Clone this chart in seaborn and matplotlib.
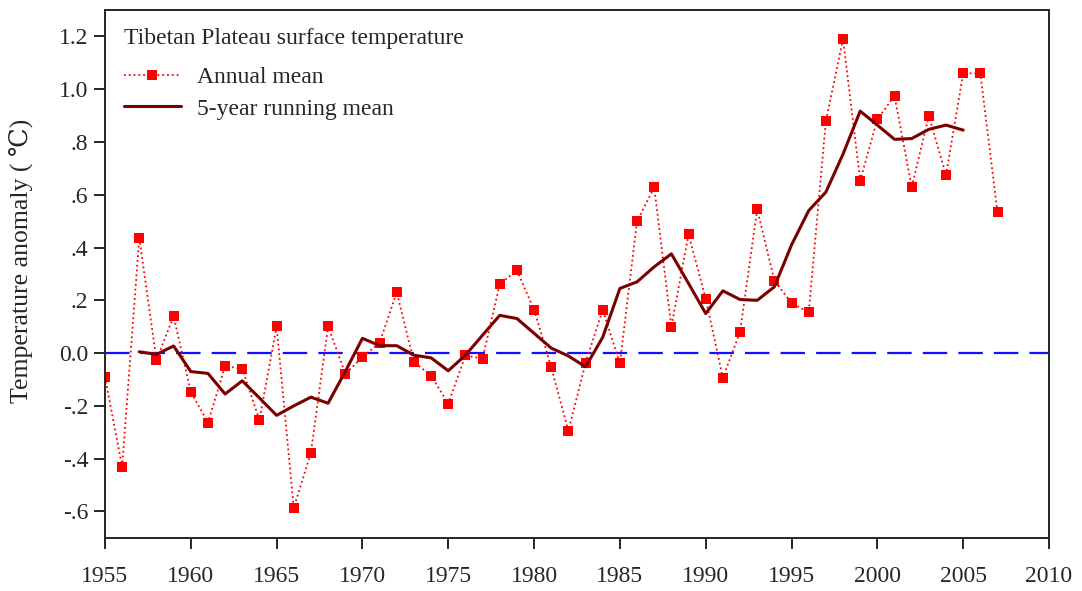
import numpy as np
import pandas as pd
import seaborn as sns
import matplotlib.pyplot as plt
from matplotlib.ticker import FuncFormatter

# Annual mean anomaly
years = list(range(1955, 2008))
annual = [-0.09, -0.43, 0.436, -0.026, 0.14, -0.146, -0.264, -0.049, -0.06, -0.254,
          0.101, -0.587, -0.377, 0.102, -0.078, -0.016, 0.039, 0.231, -0.034, -0.085,
          -0.192, -0.009, -0.021, 0.261, 0.313, 0.165, -0.054, -0.295, -0.037, 0.165,
          -0.039, 0.50, 0.628, 0.10, 0.45, 0.206, -0.094, 0.08, 0.545, 0.275,
          0.19, 0.154, 0.879, 1.19, 0.654, 0.886, 0.975, 0.629, 0.899, 0.675,
          1.06, 1.06, 0.533]

# 5-year running mean (1957-2005)
run_years = list(range(1957, 2006))
running = [0.005, -0.005, 0.027, -0.07, -0.077, -0.155, -0.105, -0.17, -0.236, -0.2,
           -0.167, -0.19, -0.07, 0.056, 0.028, 0.028, -0.008, -0.018, -0.067, -0.008,
           0.068, 0.143, 0.131, 0.075, 0.019, -0.011, -0.052, 0.06, 0.245, 0.27,
           0.327, 0.376, 0.264, 0.15, 0.236, 0.203, 0.20, 0.251, 0.41, 0.54,
           0.61, 0.754, 0.917, 0.864, 0.81, 0.813, 0.848, 0.864, 0.845]

df_annual = pd.DataFrame({"Year": years, "Anomaly": annual})
df_run = pd.DataFrame({"Year": run_years, "Anomaly": running})

sns.set_style("ticks")
plt.rcParams['font.family'] = ['Liberation Serif', 'DejaVu Serif']

fig = plt.figure(figsize=(10.82, 5.91), dpi=100)
ax = fig.add_axes([0.097, 0.09, 0.8725, 0.893])

ax.axhline(0, color="#1010ff", linestyle=(0, (11, 5)), linewidth=1.6, zorder=1)

sns.lineplot(data=df_annual, x="Year", y="Anomaly", ax=ax, color="red",
             linestyle=":", linewidth=1.3, marker="s", markersize=6.5,
             markeredgewidth=0, label="Annual mean")
sns.lineplot(data=df_run, x="Year", y="Anomaly", ax=ax, color="#7a0000",
             linewidth=2.2, label="5-year running mean")

ax.set_xlim(1955, 2010)
ax.set_ylim(-0.7, 1.3)
ax.set_xticks(range(1955, 2011, 5))
ax.set_yticks(np.arange(-0.6, 1.21, 0.2))


def fmt(v, pos):
    s = "%.1f" % v
    if s in ("0.0", "-0.0"):
        return "0.0"
    if abs(v) < 1:
        s = s.replace("0.", ".")
    return s


ax.yaxis.set_major_formatter(FuncFormatter(fmt))
ax.tick_params(direction="out", length=8, width=1.4, labelsize=17)
ax.tick_params(axis="x", pad=12)
ax.tick_params(axis="y", pad=4)
for sp in ax.spines.values():
    sp.set_linewidth(1.4)

ax.set_xlabel("")
ax.set_ylabel("Temperature anomaly ( ℃)", fontsize=18.5)
ax.yaxis.set_label_coords(-0.076, 0.525)

# legend title drawn as its own text so the gap below it matches
ax.text(0.02, 0.947, "Tibetan Plateau surface temperature", transform=ax.transAxes,
        fontsize=17, ha="left", va="center")
leg = ax.legend(loc="upper left", bbox_to_anchor=(0.0102, 0.911),
                frameon=False, fontsize=17, handlelength=2.4,
                labelspacing=0.43, borderaxespad=0, handletextpad=0.68)

fig.savefig("out.png", dpi=100)
